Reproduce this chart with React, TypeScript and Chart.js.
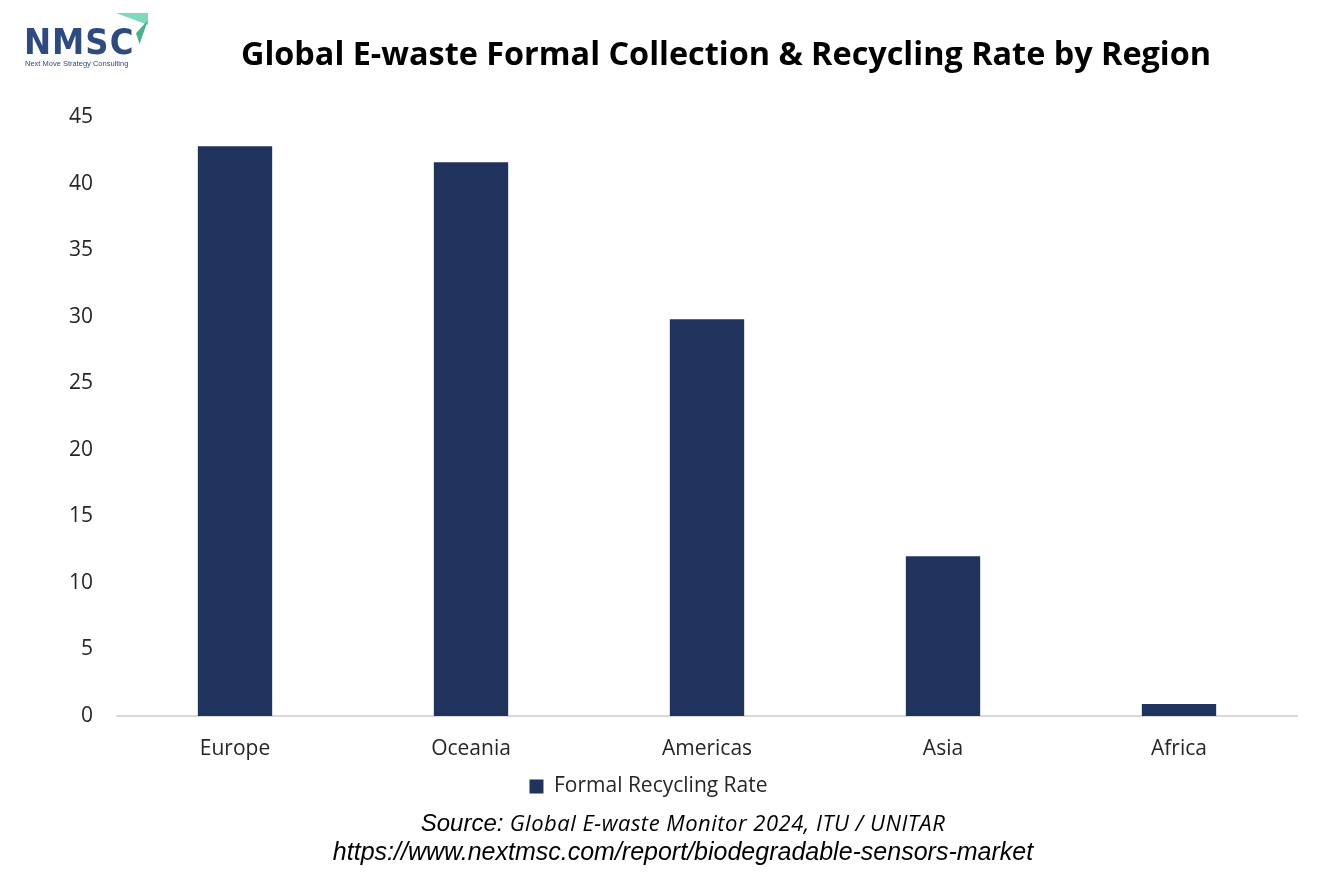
import React, { useEffect, useRef } from "react";
import { Chart, registerables } from "chart.js";

Chart.register(...registerables);

const categories = ["Europe", "Oceania", "Americas", "Asia", "Africa"];
const recyclingRate = [42.8, 41.6, 29.8, 12, 0.9];
const seriesLabel = "Formal Recycling Rate";
const yTicks = { min: 0, max: 45, step: 5 };
const titleText = "Global E-waste Formal Collection & Recycling Rate by Region";
const sourceLabel = "Source:";
const sourceText = " Global E-waste Monitor 2024, ITU / UNITAR";
const urlText = "https://www.nextmsc.com/report/biodegradable-sensors-market";

const BAR = "#1f335c";
const LABEL_FONT = "'Open Sans', 'Noto Sans', sans-serif";

export default function App() {
  const ref = useRef<HTMLCanvasElement | null>(null);

  useEffect(() => {
    document.body.style.margin = "0";
    const ctx = ref.current;
    if (!ctx) return;
    const chart = new Chart(ctx, {
      type: "bar",
      data: {
        labels: categories,
        datasets: [
          {
            label: seriesLabel,
            data: recyclingRate,
            backgroundColor: BAR,
            borderWidth: 0,
            barPercentage: 0.63,
            categoryPercentage: 0.5,
          },
        ],
      },
      options: {
        animation: false,
        responsive: false,
        maintainAspectRatio: false,
        layout: { padding: { left: 0, right: 37, top: 117, bottom: 82 } },
        plugins: {
          title: { display: false },
          tooltip: { enabled: false },
          legend: {
            display: true,
            position: "bottom",
            labels: {
              color: "#262626",
              font: { family: LABEL_FONT, size: 21 },
              boxWidth: 14,
              boxHeight: 14,
              padding: 8,
            },
          },
        },
        scales: {
          x: {
            grid: { display: false, drawTicks: false },
            border: { display: true, color: "#d9d9d9", width: 2 },
            ticks: {
              color: "#262626",
              font: { family: LABEL_FONT, size: 21 },
              padding: 20,
            },
            afterFit: (scale: any) => {
              scale.height = 52;
            },
          },
          y: {
            min: yTicks.min,
            max: yTicks.max,
            grid: { display: false, drawTicks: false },
            border: { display: false },
            ticks: {
              stepSize: yTicks.step,
              color: "#262626",
              font: { family: LABEL_FONT, size: 21 },
              padding: 24,
            },
            afterFit: (scale: any) => {
              scale.width = 117;
            },
          },
        },
      },
    });
    return () => chart.destroy();
  }, []);

  return (
    <div style={{ position: "relative", width: 1334, height: 889, background: "#fff", overflow: "hidden" }}>
      <canvas ref={ref} width={1334} height={889} style={{ position: "absolute", left: 0, top: 0, width: 1334, height: 889 }} />
      {/* Logo */}
      <div style={{ position: "absolute", left: 24, top: 18, width: 130, height: 52 }}>
        <div
          style={{
            position: "absolute",
            left: 0,
            top: 6,
            fontFamily: "'DejaVu Sans Condensed', 'DejaVu Sans', sans-serif",
            fontWeight: 700,
            fontSize: 36,
            letterSpacing: 1,
            color: "#2e4a7f",
            lineHeight: "36px",
          }}
        >
          NMSC
        </div>
        <div
          style={{
            position: "absolute",
            left: 92,
            top: -5,
            width: 0,
            height: 0,
            borderLeft: "32px solid transparent",
            borderTop: "12px solid #7fd8b8",
          }}
        />
        <div
          style={{
            position: "absolute",
            left: 112,
            top: 2,
            width: 12,
            height: 24,
            background: "#4db08a",
            clipPath: "polygon(100% 0, 0 55%, 30% 100%)",
          }}
        />
        <div
          style={{
            position: "absolute",
            left: 1,
            top: 41,
            fontFamily: "'Liberation Sans', Arial, sans-serif",
            fontSize: 7.5,
            color: "#2e4a7f",
            whiteSpace: "nowrap",
          }}
        >
          Next Move Strategy Consulting
        </div>
      </div>
      {/* Title */}
      <div
        style={{
          position: "absolute",
          left: 0,
          top: 30,
          width: 1452,
          textAlign: "center",
          fontFamily: "'Open Sans', sans-serif",
          fontWeight: 700,
          fontSize: 32.4,
          color: "#000",
          whiteSpace: "nowrap",
          lineHeight: "44px",
        }}
      >
        {titleText}
      </div>
      {/* Source */}
      <div
        style={{
          position: "absolute",
          left: 0,
          top: 807,
          width: 1366,
          textAlign: "center",
          fontStyle: "italic",
          fontSize: 24,
          color: "#000",
          whiteSpace: "nowrap",
          lineHeight: "30px",
        }}
      >
        <span style={{ fontFamily: "'Liberation Sans', Arial, sans-serif" }}>{sourceLabel}</span>
        <span style={{ fontFamily: "'Open Sans', sans-serif", fontSize: 22, letterSpacing: 0.5 }}>{sourceText}</span>
      </div>
      <div
        style={{
          position: "absolute",
          left: 0,
          top: 836,
          width: 1366,
          textAlign: "center",
          fontStyle: "italic",
          fontFamily: "'Liberation Sans', Arial, sans-serif",
          fontSize: 25,
          color: "#000",
          whiteSpace: "nowrap",
          lineHeight: "30px",
        }}
      >
        {urlText}
      </div>
    </div>
  );
}
